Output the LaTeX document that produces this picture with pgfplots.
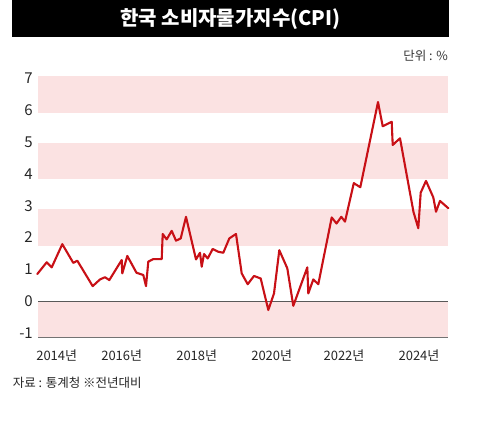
\documentclass[border=0pt]{standalone}
\usepackage{fontspec}
\setmainfont{Noto Sans CJK KR}
\usepackage{pgfplots}
\pgfplotsset{compat=1.18}
\definecolor{cpired}{RGB}{200,16,22}
\definecolor{bandpink}{RGB}{251,226,226}
\begin{document}
\begin{tikzpicture}[x=1pt,y=1pt]
\useasboundingbox (0,0) rectangle (481,423);
\fill[black] (12,386) rectangle (449,423);
\node[text=white,inner sep=0pt,font=\fontsize{20}{24}\selectfont\bfseries] at (230.5,404) {한국 소비자물가지수(CPI)};
\node[anchor=east,inner sep=0pt,font=\fontsize{12.5}{14}\selectfont,text=black!80] at (448,367) {단위 : \%};
\node[anchor=west,inner sep=0pt,font=\fontsize{12.5}{14}\selectfont,text=black!85] at (12.7,40) {자료 : 통계청 ※전년대비};
\begin{axis}[
  at={(38pt,85.7pt)}, anchor=south west,
  scale only axis, width=410pt, height=261.3pt,
  xmin=38, xmax=448, ymin=-1.14, ymax=7.08,
  axis line style={draw=none}, major tick length=0pt,
  ytick={-1,0,1,2,3,4,5,6,7},
  yticklabels={-1,0,1,2,3,4,5,6,7},
  yticklabel style={anchor=east,inner sep=0pt,xshift=-5pt,font=\fontsize{15}{16}\selectfont,text=black!85},
  xtick={56.7,121.7,196.7,271.7,344,419},
  xticklabels={2014년,2016년,2018년,2020년,2022년,2024년},
  xticklabel style={anchor=north,inner sep=0pt,yshift=-12pt,font=\fontsize{13}{14}\selectfont,text=black!85},
  clip=false,
]
\addplot[draw=none,fill=bandpink] coordinates {(38,5.92)(448,5.92)(448,7.08)(38,7.08)} --cycle;
\addplot[draw=none,fill=bandpink] coordinates {(38,3.83)(448,3.83)(448,4.98)(38,4.98)} --cycle;
\addplot[draw=none,fill=bandpink] coordinates {(38,1.74)(448,1.74)(448,2.89)(38,2.89)} --cycle;
\addplot[draw=none,fill=bandpink] coordinates {(38,-1.14)(448,-1.14)(448,0)(38,0)} --cycle;
\addplot[black!65,line width=0.9pt] coordinates {(38,0)(448,0)};
\addplot[black!55,line width=0.9pt] coordinates {(38,-1.14)(448,-1.14)};
\addplot[cpired,line width=2.1pt,line join=round,line cap=round] coordinates {
(37.3,0.85)(46.7,1.22)(51.7,1.06)(62.3,1.79)(73.3,1.20)(77.3,1.27)(92.7,0.47)
(100,0.68)(105,0.75)(109.3,0.66)(115,0.95)(121.7,1.29)(122.3,0.87)(127.3,1.42)
(136.5,0.89)(143.3,0.82)(146,0.47)(148.3,1.24)(153.3,1.32)(161.7,1.32)
(162.7,2.11)(166.7,1.94)(171.7,2.21)(176,1.90)(180.7,1.97)(186,2.65)
(196,1.31)(200,1.52)(201.7,1.08)(204,1.48)(207.7,1.34)(212.7,1.64)(218.3,1.55)
(223.3,1.52)(229.3,1.97)(236,2.11)(241.7,0.87)(247.7,0.53)(254,0.79)(260.7,0.71)
(268.3,-0.28)(274,0.24)(279.3,1.60)(287.3,1.03)(293.3,-0.15)(307.3,1.06)
(308.3,0.24)(313.3,0.68)(318.3,0.53)(331.7,2.63)(336.5,2.44)(341.3,2.65)
(345,2.50)(353.8,3.71)(360.3,3.58)(378,6.26)(382.7,5.50)(391.7,5.64)
(392.7,4.91)(400,5.12)(413.5,2.80)(418.3,2.29)(420.7,3.41)(426,3.78)
(433.3,3.26)(436,2.81)(440,3.15)(448.3,2.92)
};
\end{axis}
\end{tikzpicture}
\end{document}
